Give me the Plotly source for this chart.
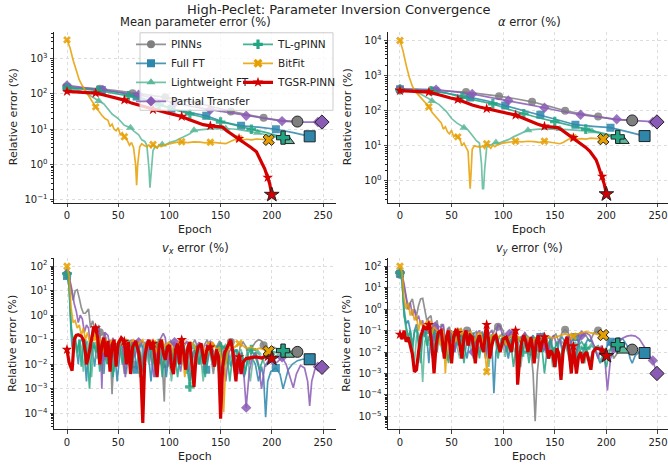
import plotly.graph_objects as go

# ---------------- data: (epoch, relative error %) ----------------
methods = ['PINNs', 'Full FT', 'Lightweight FT', 'Partial Transfer', 'TL-gPINN', 'BitFit', 'TGSR-PINN']

# Mean parameter error (%)
pinn_mean = [(0, 160), (16, 150), (32, 140), (48, 125), (64, 105), (80, 92), (96, 80), (112, 66), (128, 55), (144, 42),
             (160, 32), (176, 26), (192, 21), (208, 18), (224, 16.5), (225, 16.5)]
fullft_mean = [(0, 150), (17, 140), (34, 130), (51, 110), (68, 85), (85, 60), (102, 38), (119, 30), (136, 24), (153, 16),
               (170, 12.5), (187, 11.5), (204, 10), (221, 8), (237, 6.3)]
light_mean = [(0, 140), (10, 130), (20, 100), (31, 63), (36, 52), (44, 27), (50, 20), (56, 13), (62, 11), (65, 9), (70, 7),
              (73, 5), (76, 4.5), (78, 3.5), (80, 0.8), (81, 0.22), (82, 0.5), (84, 2.5), (86, 3.2), (88, 3.0), (90, 3.6),
              (93, 3.7), (96, 3.6), (100, 4.2), (105, 4.6), (110, 5.5), (115, 6.3), (120, 7.5), (124, 9.3), (130, 9.8),
              (140, 10.2), (155, 10.5), (165, 10), (175, 9), (186, 8), (195, 7), (205, 6), (216, 4.7)]
partial_mean = [(0, 175), (17, 150), (35, 130), (52, 110), (70, 95), (87, 72), (105, 55), (122, 44), (140, 36), (157, 30),
                (175, 24), (192, 20), (210, 17), (227, 16), (245, 16), (249, 16)]
tlg_mean = [(0, 150), (15, 140), (30, 125), (45, 105), (60, 88), (75, 68), (90, 49), (105, 36), (120, 27), (135, 21),
            (150, 16), (165, 13), (180, 10), (195, 8), (210, 6), (211, 5.8)]
bitfit_mean = [(0, 3400), (3, 2000), (6, 900), (9, 450), (12, 250), (15, 170), (18, 120), (21, 90), (24, 65), (28, 43),
               (31, 32), (34, 25), (37, 20), (40, 18), (42, 12), (44, 14), (46, 10), (48, 9), (50, 11), (52, 7), (54, 8),
               (56, 6.1), (58, 5.5), (61, 3.5), (63, 4.2), (65, 3), (67, 1), (68, 0.26), (69, 1), (71, 3.2), (73, 3.9),
               (75, 3.5), (78, 3.2), (80, 3.6), (82, 3.0), (84, 3.7), (86, 3.3), (88, 2.9), (90, 3.6), (92, 3.2), (94, 3.5),
               (97, 3.7), (100, 3.9), (104, 4.1), (108, 4.3), (112, 4.4), (118, 4.2), (124, 4.4), (130, 4.3), (135, 4.1),
               (140, 4.3), (145, 4.2), (150, 4.0), (155, 3.9), (158, 4.3), (162, 5.0), (165, 5.3), (168, 5.4), (172, 5.0),
               (176, 5.2), (180, 5.0), (185, 5.3), (190, 5.1), (196, 5.0), (197, 5.0)]
tgsr_mean = [(0, 118), (7, 115), (14, 112), (21, 110), (28, 105), (35, 95), (42, 85), (49, 75), (56, 67), (63, 55), (70, 48),
             (77, 42), (84, 36), (91, 33), (98, 29), (105, 26), (112, 23), (119, 19), (126, 16), (133, 13.5), (140, 12.5),
             (147, 12), (152, 11.5), (156, 9), (160, 7.5), (164, 6.3), (168, 5.4), (172, 4.5), (176, 3.7), (180, 3.0),
             (185, 2.3), (188, 1.6), (191, 1.0), (193, 0.77), (195, 0.55), (196, 0.43), (198, 0.28), (200, 0.14)]

# alpha error (%)
pinn_alpha = [(0, 400), (16, 390), (32, 380), (48, 360), (64, 340), (80, 300), (96, 260), (112, 220), (128, 180), (144, 135),
              (160, 100), (176, 82), (192, 68), (208, 57), (224, 53), (225, 53)]
fullft_alpha = [(0, 410), (17, 400), (34, 360), (51, 300), (68, 240), (85, 190), (102, 140), (119, 100), (136, 77), (153, 55),
                (170, 40), (187, 36), (204, 33), (221, 25), (237, 19)]
light_alpha = [(0, 400), (10, 380), (20, 300), (31, 190), (38, 150), (45, 95), (50, 60), (55, 45), (62, 33), (66, 28),
               (70, 20), (74, 14), (77, 12), (79, 3), (80, 0.6), (81, 0.6), (82, 2), (84, 9), (86, 11), (88, 10.5), (90, 11.5),
               (93, 12.4), (96, 12), (100, 13), (105, 15), (110, 18), (115, 21), (120, 25), (124, 28), (135, 30), (155, 30),
               (170, 28), (186, 26), (200, 20), (210, 16), (216, 14)]
partial_alpha = [(0, 420), (17, 410), (35, 400), (52, 350), (70, 300), (87, 240), (105, 195), (122, 155), (140, 122),
                 (157, 95), (175, 77), (192, 65), (210, 57), (227, 52), (245, 48), (249, 48)]
tlg_alpha = [(0, 400), (15, 390), (30, 370), (45, 320), (60, 240), (75, 195), (90, 157), (105, 110), (120, 82), (135, 62),
             (150, 49), (165, 38), (180, 30), (195, 23), (210, 18), (211, 18)]
bitfit_alpha = [(0, 10000), (3, 5000), (6, 2000), (9, 900), (12, 500), (15, 350), (18, 280), (21, 220), (24, 170), (28, 130),
                (31, 90), (34, 70), (37, 55), (40, 45), (42, 30), (44, 35), (46, 25), (48, 22), (50, 28), (52, 18), (54, 20),
                (56, 18), (58, 16), (60, 10), (62, 12), (64, 9), (66, 7), (67, 2), (68, 0.6), (69, 2), (70, 8), (72, 10),
                (75, 9.5), (78, 9), (80, 10), (82, 8.5), (84, 11.5), (86, 10), (88, 8.5), (90, 10.5), (92, 9.5), (94, 10.5),
                (97, 11.5), (100, 12), (104, 12.5), (108, 13), (112, 13.5), (118, 13), (124, 13.5), (130, 13.2), (135, 12.5),
                (140, 13.5), (145, 13), (150, 12), (155, 11.5), (158, 12.5), (162, 15), (165, 16.5), (168, 17), (172, 15.5),
                (176, 16), (180, 15.5), (185, 16.5), (190, 16), (196, 15.5), (197, 15.5)]
tgsr_alpha = [(0, 375), (7, 370), (14, 360), (21, 350), (28, 340), (35, 300), (42, 260), (49, 230), (56, 208), (63, 170),
              (70, 145), (77, 128), (84, 115), (91, 100), (98, 90), (105, 82), (112, 75), (119, 62), (126, 50), (133, 42),
              (140, 36), (147, 35), (153, 33), (157, 28), (161, 23), (165, 19), (168, 17), (172, 14), (176, 11.5), (180, 9),
              (184, 7), (187, 5.5), (190, 4), (192, 2.8), (194, 1.9), (196, 1.35), (198, 0.8), (200, 0.42)]

# v_x error (%)
pinn_vx = [(0, 45), (2, 35), (4, 12), (6, 4), (8, 10), (10, 11), (12, 5), (14, 2), (16, 1.2), (18, 1.2), (21, 1.8), (23, 0.3),
           (25, 0.6), (27, 0.3), (29, 0.15), (31, 0.4), (32, 0.2), (34, 0.05), (36, 0.2), (38, 0.12), (40, 0.01), (42, 0.1),
           (44, 6e-4), (46, 0.04), (48, 0.07), (50, 0.05), (52, 0.1), (54, 0.02), (56, 0.004), (58, 0.05), (60, 0.08),
           (62, 0.03), (64, 0.01), (66, 0.06), (68, 0.09), (70, 0.02), (72, 0.003), (74, 0.05), (76, 0.08), (78, 0.06),
           (80, 0.01), (82, 0.05), (84, 0.08), (86, 0.03), (88, 0.008), (90, 0.04), (92, 0.07), (95, 3e-4), (96, 0.01),
           (98, 0.05), (101, 0.09), (104, 0.06), (107, 0.01), (110, 0.05), (113, 0.08), (116, 0.03), (119, 0.005),
           (122, 0.06), (125, 0.1), (128, 0.04), (131, 0.01), (134, 0.06), (137, 0.1), (140, 0.03), (143, 0.004),
           (146, 0.05), (149, 0.09), (152, 0.05), (155, 0.01), (158, 0.06), (160, 0.08), (163, 0.04), (166, 0.008),
           (169, 0.05), (172, 0.08), (175, 0.05), (178, 0.01), (181, 0.05), (184, 0.08), (187, 0.1), (190, 0.09),
           (192, 0.06), (195, 0.02), (198, 0.04), (202, 0.05), (206, 0.04), (210, 0.03), (215, 0.035), (220, 0.033),
           (224, 0.032), (225, 0.032)]
fullft_vx = [(0, 40), (2, 15), (4, 0.2), (5, 0.05), (7, 0.1), (9, 0.06), (11, 0.01), (13, 0.08), (15, 0.12), (17, 0.03),
             (19, 0.002), (21, 0.05), (23, 0.1), (25, 0.03), (27, 0.008), (29, 0.06), (31, 0.09), (34, 0.03), (36, 0.004),
             (38, 0.05), (40, 0.08), (43, 0.01), (46, 0.06), (49, 0.002), (52, 0.04), (55, 0.07), (58, 0.01), (61, 0.05),
             (64, 0.08), (66, 0.03), (68, 0.006), (70, 0.04), (73, 0.07), (76, 0.01), (79, 0.05), (82, 0.002), (85, 0.05),
             (88, 0.07), (91, 0.01), (94, 0.04), (97, 0.003), (100, 0.05), (102, 0.03), (105, 0.008), (108, 0.04),
             (111, 0.06), (114, 0.01), (117, 0.04), (120, 0.002), (123, 0.03), (126, 0.05), (129, 0.01), (132, 0.04),
             (136, 0.006), (139, 0.03), (142, 0.05), (145, 0.01), (148, 0.03), (151, 0.002), (154, 0.03), (157, 0.04),
             (160, 0.008), (163, 0.03), (166, 0.04), (170, 0.01), (173, 0.003), (176, 0.012), (180, 0.02), (184, 0.01),
             (187, 0.002), (190, 0.008), (192, 0.003), (194, 7e-5), (196, 0.002), (199, 0.005), (204, 0.007), (208, 0.004),
             (211, 0.001), (213, 0.002), (216, 0.006), (220, 0.01), (225, 0.014), (230, 0.016), (234, 0.016), (237, 0.016)]
light_vx = [(0, 45), (2, 20), (4, 0.5), (6, 0.04), (8, 0.08), (10, 0.02), (12, 0.1), (14, 0.05), (16, 0.005), (18, 0.06),
            (20, 0.09), (22, 0.02), (24, 0.003), (26, 0.05), (28, 0.08), (31, 0.02), (33, 0.06), (35, 0.004), (37, 0.05),
            (40, 0.08), (43, 0.02), (46, 0.005), (49, 0.06), (52, 0.09), (55, 0.02), (58, 0.004), (61, 0.05), (62, 0.06),
            (65, 0.02), (68, 0.07), (71, 0.003), (74, 0.04), (77, 0.08), (80, 0.01), (83, 0.05), (86, 0.003), (89, 0.05),
            (93, 0.06), (96, 0.01), (99, 0.05), (102, 0.002), (105, 0.04), (108, 0.06), (111, 0.01), (114, 0.04),
            (117, 0.004), (120, 0.04), (124, 0.05), (127, 0.01), (130, 0.04), (133, 0.002), (136, 0.03), (139, 0.05),
            (142, 0.01), (145, 0.035), (148, 0.005), (151, 0.04), (155, 0.05), (158, 0.01), (161, 0.03), (164, 0.004),
            (167, 0.03), (170, 0.04), (173, 0.01), (176, 0.03), (179, 0.002), (182, 0.02), (186, 0.03), (190, 0.02),
            (194, 0.008), (198, 0.015), (202, 0.02), (206, 0.025), (210, 0.026), (213, 0.025), (216, 0.025)]
partial_vx = [(0, 50), (3, 25), (5, 10), (7, 3), (9, 1.5), (11, 0.5), (13, 1), (15, 0.7), (17, 0.2), (19, 0.4), (21, 0.3),
              (23, 0.05), (25, 0.3), (27, 0.2), (29, 0.25), (31, 0.3), (33, 0.03), (34, 0.001), (35, 0.02), (37, 0.2),
              (40, 0.15), (42, 0.05), (45, 0.12), (48, 0.01), (51, 0.1), (54, 0.06), (57, 0.003), (60, 0.07), (63, 0.1),
              (66, 0.02), (70, 0.08), (73, 0.005), (76, 0.06), (79, 0.1), (82, 0.02), (85, 0.003), (88, 0.06), (91, 0.1),
              (94, 0.18), (96, 0.12), (99, 0.01), (102, 0.06), (105, 0.08), (108, 0.02), (111, 0.005), (114, 0.05),
              (117, 0.09), (120, 0.03), (123, 0.003), (126, 0.05), (129, 0.08), (132, 0.02), (135, 0.006), (138, 0.05),
              (140, 0.06), (143, 0.01), (146, 0.04), (149, 0.07), (152, 0.02), (155, 0.002), (158, 0.03), (161, 0.05),
              (164, 0.02), (167, 0.004), (170, 0.03), (172, 0.01), (175, 1.7e-4), (178, 0.005), (181, 0.02), (184, 0.03),
              (187, 0.01), (190, 0.001), (193, 0.008), (197, 0.015), (201, 0.01), (205, 0.012), (210, 0.019), (214, 0.01),
              (218, 0.003), (221, 0.0011), (224, 0.004), (228, 0.009), (232, 0.007), (235, 0.002), (237, 2e-4),
              (239, 0.002), (242, 0.006), (245, 0.008), (249, 0.0075)]
tlg_vx = [(0, 50), (2, 20), (4, 0.3), (6, 0.1), (8, 0.15), (10, 0.03), (12, 0.1), (14, 0.008), (16, 0.07), (18, 0.1),
          (20, 0.02), (22, 0.001), (24, 0.04), (26, 0.08), (28, 0.03), (30, 0.05), (32, 0.005), (34, 0.06), (36, 0.09),
          (39, 0.01), (42, 0.05), (45, 0.003), (48, 0.06), (51, 0.08), (54, 0.01), (57, 0.05), (60, 0.06), (63, 0.004),
          (66, 0.05), (69, 0.08), (72, 0.02), (75, 0.004), (78, 0.05), (81, 0.07), (84, 0.01), (87, 0.05), (90, 0.07),
          (93, 0.003), (96, 0.05), (99, 0.07), (102, 0.01), (105, 0.04), (108, 0.003), (111, 0.04), (114, 0.06),
          (117, 0.01), (120, 0.0012), (123, 0.02), (126, 0.05), (129, 0.01), (132, 0.04), (135, 0.003), (138, 0.04),
          (141, 0.06), (144, 0.01), (147, 0.04), (150, 0.05), (153, 0.008), (156, 0.035), (159, 0.002), (162, 0.03),
          (165, 0.04), (168, 0.01), (171, 0.03), (174, 0.004), (177, 0.03), (180, 0.04), (184, 0.02), (188, 0.006),
          (192, 0.02), (196, 0.03), (200, 0.035), (204, 0.03), (208, 0.035), (210, 0.036), (211, 0.036)]
bitfit_vx = [(0, 100), (2, 40), (4, 2), (6, 0.5), (8, 0.6), (10, 0.3), (12, 0.4), (14, 0.15), (16, 0.3), (18, 0.1), (20, 0.2),
             (22, 0.08), (24, 0.15), (26, 0.2), (28, 0.12), (30, 0.05), (32, 0.12), (35, 0.03), (38, 0.1), (41, 0.06),
             (44, 0.1), (47, 0.02), (50, 0.09), (53, 0.11), (56, 0.08), (59, 0.03), (62, 0.08), (65, 0.1), (68, 0.05),
             (71, 0.08), (74, 0.1), (77, 0.04), (80, 0.09), (84, 0.07), (87, 0.03), (90, 0.08), (93, 0.1), (96, 0.05),
             (99, 0.08), (102, 0.06), (105, 0.02), (108, 0.07), (112, 0.08), (115, 0.003), (118, 0.05), (121, 0.08),
             (124, 0.06), (127, 0.03), (130, 0.07), (133, 0.05), (136, 0.02), (140, 0.06), (143, 0.07), (146, 0.04),
             (149, 0.05), (151, 0.01), (153, 1.1e-4), (155, 0.01), (158, 0.05), (161, 0.06), (164, 0.05), (168, 0.07),
             (171, 0.06), (175, 0.045), (180, 0.05), (184, 0.04), (188, 0.045), (192, 0.038), (196, 0.034), (197, 0.034)]
tgsr_vx = [(0, 0.04), (2, 0.012), (5, 0.0055), (7, 0.1), (9, 0.15), (11, 0.16), (14, 0.14), (16, 0.1), (18, 0.03), (19, 0.01),
           (21, 0.02), (23, 0.06), (26, 0.3), (28, 0.3), (30, 0.12), (32, 0.01), (34, 0.06), (36, 0.12), (38, 0.02),
           (40, 0.09), (42, 0.005), (44, 0.06), (46, 0.1), (48, 0.008), (50, 0.07), (53, 0.12), (56, 0.085), (58, 0.01),
           (60, 0.08), (62, 0.004), (64, 0.05), (67, 0.09), (70, 0.03), (72, 0.006), (74, 4e-5), (76, 0.02), (78, 0.06),
           (80, 0.1), (82, 0.04), (84, 0.07), (86, 0.01), (88, 0.003), (90, 0.06), (92, 0.1), (94, 0.03), (96, 0.015),
           (98, 0.05), (100, 0.06), (102, 0.008), (104, 0.004), (106, 0.04), (108, 0.07), (110, 0.01), (112, 0.1),
           (114, 0.03), (116, 0.006), (118, 0.05), (120, 0.08), (122, 0.01), (124, 0.0012), (126, 0.02), (128, 0.05),
           (131, 0.07), (134, 0.01), (137, 0.05), (140, 0.05), (142, 0.02), (144, 0.008), (146, 0.04), (148, 0.02),
           (150, 6e-5), (152, 0.008), (154, 0.03), (157, 0.06), (160, 0.1), (162, 0.03), (164, 0.005), (165, 0.002),
           (166, 0.01), (168, 0.02), (170, 0.004), (172, 0.012), (175, 0.017), (180, 0.018), (185, 0.02), (190, 0.018),
           (193, 0.02), (196, 0.02), (200, 0.017)]

# v_y error (%)
pinn_vy = [(0, 40), (2, 35), (4, 10), (6, 3), (8, 1), (10, 2), (12, 3), (14, 1), (16, 0.5), (18, 1.5), (20, 3), (22, 3.2),
           (24, 1), (26, 0.3), (28, 0.4), (30, 0.5), (32, 0.1), (34, 0.2), (36, 0.3), (38, 0.05), (40, 0.2), (42, 0.15),
           (44, 0.02), (46, 0.12), (48, 0.15), (50, 0.03), (53, 0.1), (56, 0.12), (59, 0.01), (62, 0.08), (65, 0.1),
           (68, 0.02), (71, 0.07), (74, 0.09), (77, 0.01), (80, 0.06), (83, 0.08), (86, 0.02), (89, 0.05), (92, 0.12),
           (95, 0.15), (97, 0.17), (100, 0.1), (103, 0.02), (106, 0.06), (109, 0.1), (112, 0.05), (115, 0.01), (118, 0.04),
           (121, 0.08), (124, 0.05), (127, 0.01), (129, 0.001), (131, 6e-6), (133, 0.001), (136, 0.03), (139, 0.08),
           (142, 0.05), (145, 0.01), (148, 0.05), (151, 0.07), (154, 0.03), (157, 0.08), (160, 0.11), (163, 0.08),
           (166, 0.02), (169, 0.005), (172, 0.02), (176, 0.06), (180, 0.06), (184, 0.03), (188, 0.08), (192, 0.1),
           (195, 0.09), (198, 0.08), (201, 0.05), (204, 0.02), (207, 0.005), (210, 0.008), (214, 0.015), (218, 0.014),
           (222, 0.013), (224, 0.013), (225, 0.013)]
fullft_vy = [(0, 45), (2, 20), (4, 1), (6, 0.2), (8, 0.3), (10, 0.1), (12, 0.02), (14, 0.1), (16, 0.2), (18, 0.05), (20, 0.01),
             (22, 0.08), (24, 0.15), (26, 0.05), (28, 0.003), (30, 0.06), (32, 0.1), (34, 0.05), (36, 0.01), (38, 0.07),
             (41, 0.1), (44, 0.02), (47, 0.07), (50, 0.1), (53, 0.01), (56, 0.06), (59, 0.08), (62, 0.02), (65, 0.005),
             (68, 0.05), (71, 0.08), (74, 0.02), (77, 0.06), (80, 0.09), (83, 0.01), (86, 0.05), (89, 0.03), (91, 1.2e-4),
             (93, 0.01), (96, 0.05), (99, 0.07), (102, 0.03), (105, 0.005), (108, 0.04), (111, 0.07), (114, 0.02),
             (117, 0.05), (120, 0.06), (123, 0.01), (126, 0.04), (129, 0.06), (132, 0.02), (136, 0.05), (139, 0.01),
             (142, 0.04), (145, 0.05), (148, 0.01), (151, 0.002), (154, 0.03), (157, 0.05), (160, 0.03), (163, 0.008),
             (166, 0.03), (170, 0.05), (173, 0.03), (176, 0.005), (179, 0.02), (182, 0.04), (186, 0.03), (190, 0.01),
             (194, 0.003), (198, 0.01), (201, 0.02), (204, 0.03), (208, 0.04), (212, 0.045), (216, 0.04), (220, 0.02),
             (223, 0.005), (225, 0.003), (228, 0.007), (232, 0.01), (235, 0.009), (237, 0.009)]
light_vy = [(0, 45), (2, 25), (4, 0.6), (6, 0.1), (8, 0.04), (10, 0.1), (12, 0.02), (14, 0.003), (16, 0.05), (18, 0.08),
            (20, 0.02), (22, 4e-4), (24, 0.03), (26, 0.06), (28, 0.02), (31, 0.04), (34, 0.006), (37, 0.05), (40, 0.08),
            (43, 0.02), (46, 0.004), (49, 0.05), (52, 0.08), (55, 0.02), (58, 0.005), (62, 0.05), (65, 0.08), (68, 0.02),
            (71, 0.005), (74, 0.04), (77, 0.06), (80, 0.01), (83, 0.04), (86, 0.002), (89, 0.03), (93, 0.05), (96, 0.01),
            (99, 0.04), (102, 0.006), (105, 0.04), (108, 0.05), (111, 0.01), (114, 0.03), (117, 0.002), (120, 0.03),
            (124, 0.04), (127, 0.01), (130, 0.03), (133, 0.005), (136, 0.03), (139, 0.04), (142, 0.01), (145, 0.03),
            (148, 0.002), (151, 0.02), (155, 0.03), (158, 0.008), (161, 0.025), (164, 0.004), (167, 0.02), (170, 0.03),
            (173, 0.01), (176, 0.02), (179, 0.003), (182, 0.015), (186, 0.02), (190, 0.012), (194, 0.004), (198, 0.008),
            (202, 0.012), (206, 0.014), (210, 0.013), (213, 0.012), (216, 0.012)]
partial_vy = [(0, 50), (2, 40), (4, 15), (6, 3), (8, 1), (10, 2), (12, 0.5), (14, 1), (16, 0.3), (18, 0.5), (20, 0.2),
              (22, 0.3), (24, 0.05), (26, 0.2), (28, 0.25), (30, 0.1), (32, 0.02), (34, 0.15), (36, 0.2), (38, 0.05),
              (40, 0.15), (42, 0.2), (44, 0.03), (47, 0.12), (50, 0.08), (53, 0.01), (56, 0.1), (59, 0.12), (62, 0.02),
              (65, 0.08), (68, 0.1), (71, 0.01), (74, 0.07), (77, 0.1), (80, 0.03), (83, 0.005), (86, 0.07), (89, 0.1),
              (92, 0.04), (95, 0.2), (97, 0.15), (100, 0.05), (103, 0.01), (106, 0.07), (109, 0.1), (112, 0.03),
              (115, 0.005), (118, 0.05), (121, 0.08), (124, 0.02), (127, 0.05), (130, 0.01), (133, 0.05), (136, 0.07),
              (140, 0.02), (143, 0.005), (146, 0.04), (149, 0.06), (152, 0.02), (155, 0.04), (158, 0.01), (161, 0.05),
              (164, 0.06), (167, 0.02), (170, 0.004), (173, 0.03), (176, 0.06), (180, 0.08), (184, 0.06), (188, 0.02),
              (192, 0.005), (195, 0.02), (198, 0.01), (201, 1.6e-4), (204, 0.005), (208, 0.015), (212, 0.03), (216, 0.045),
              (220, 0.055), (224, 0.06), (228, 0.055), (232, 0.04), (236, 0.02), (240, 0.01), (243, 0.005), (245, 0.004),
              (249, 0.001)]
tlg_vy = [(0, 50), (2, 25), (4, 0.5), (6, 0.15), (8, 0.05), (10, 0.1), (12, 0.01), (14, 0.08), (16, 0.12), (18, 0.02),
          (20, 0.003), (22, 0.05), (24, 0.09), (26, 0.02), (28, 0.05), (30, 0.08), (32, 0.01), (35, 0.06), (38, 0.08),
          (41, 0.01), (44, 0.05), (47, 0.003), (50, 0.05), (53, 0.08), (56, 0.02), (59, 0.05), (62, 0.003), (65, 0.05),
          (68, 0.07), (71, 0.02), (74, 0.05), (77, 0.005), (80, 0.05), (83, 0.07), (86, 0.01), (89, 0.04), (92, 0.06),
          (95, 0.005), (98, 0.04), (101, 0.06), (104, 0.01), (107, 0.04), (110, 0.002), (113, 0.03), (116, 0.05),
          (119, 0.01), (122, 0.04), (125, 0.003), (128, 0.03), (131, 0.05), (134, 0.01), (137, 0.03), (140, 0.001),
          (143, 0.02), (146, 0.04), (149, 0.01), (152, 0.03), (155, 0.004), (158, 0.02), (161, 0.03), (164, 0.008),
          (167, 0.02), (170, 0.003), (173, 0.02), (176, 0.03), (180, 0.015), (184, 0.004), (188, 0.015), (192, 0.02),
          (196, 0.01), (200, 0.002), (203, 0.01), (206, 0.02), (209, 0.022), (211, 0.022)]
bitfit_vy = [(0, 100), (2, 50), (4, 3), (6, 1), (8, 2), (10, 0.5), (12, 1), (14, 0.3), (16, 0.5), (18, 0.1), (20, 0.3),
             (22, 0.15), (24, 0.2), (26, 0.25), (28, 0.2), (30, 0.05), (33, 0.15), (36, 0.1), (39, 0.02), (42, 0.1),
             (44, 0.001), (46, 0.05), (48, 0.1), (51, 0.08), (54, 0.03), (57, 0.09), (60, 0.1), (63, 0.04), (66, 0.08),
             (69, 0.09), (72, 0.03), (75, 0.07), (78, 0.08), (81, 0.02), (83, 0.005), (84, 0.0012), (86, 0.01), (88, 0.05),
             (91, 0.07), (94, 0.04), (97, 0.06), (100, 0.05), (103, 0.02), (106, 0.05), (109, 0.06), (112, 0.04),
             (115, 0.05), (118, 0.03), (121, 0.05), (124, 0.045), (127, 0.02), (130, 0.04), (133, 0.05), (136, 0.035),
             (140, 0.04), (144, 0.05), (148, 0.045), (152, 0.05), (156, 0.06), (160, 0.07), (164, 0.06), (168, 0.054),
             (172, 0.07), (176, 0.08), (180, 0.09), (184, 0.08), (188, 0.07), (192, 0.065), (196, 0.062), (197, 0.062)]
tgsr_vy = [(0, 0.066), (2, 0.04), (4, 0.1), (6, 0.03), (8, 0.05), (10, 0.02), (12, 0.008), (14, 0.0012), (16, 0.0015),
           (18, 0.01), (20, 0.05), (23, 0.15), (26, 0.12), (28, 0.19), (30, 0.05), (32, 0.005), (33, 0.001), (35, 0.02),
           (37, 0.08), (40, 0.1), (42, 0.02), (43, 0.005), (45, 0.05), (47, 0.1), (50, 0.003), (52, 0.05), (54, 0.1),
           (56, 0.08), (58, 0.02), (60, 0.005), (62, 0.05), (64, 0.1), (66, 0.02), (68, 0.06), (70, 0.05), (72, 0.01),
           (73, 0.003), (75, 0.03), (77, 0.06), (79, 0.02), (81, 0.01), (83, 0.1), (84, 0.19), (86, 0.03), (87, 0.005),
           (89, 0.02), (91, 0.05), (93, 0.06), (95, 0.02), (97, 0.01), (100, 0.04), (103, 0.05), (106, 0.02), (108, 0.01),
           (110, 0.05), (112, 0.1), (113, 0.02), (114, 3e-4), (116, 0.005), (118, 0.03), (120, 0.06), (122, 0.03),
           (124, 0.01), (127, 0.05), (129, 0.01), (130, 0.003), (132, 0.03), (134, 0.06), (136, 0.01), (138, 0.03),
           (140, 0.05), (142, 0.02), (144, 0.005), (146, 0.012), (148, 0.008), (150, 0.002), (152, 0.015), (154, 0.008),
           (156, 5e-4), (158, 0.01), (160, 0.03), (162, 0.05), (164, 0.01), (166, 0.001), (168, 0.019), (170, 0.004),
           (171, 0.001), (173, 0.006), (175, 0.01), (177, 0.003), (179, 0.008), (181, 0.01), (183, 0.004), (185, 0.0015),
           (187, 0.01), (190, 0.015), (193, 0.014), (196, 0.012), (198, 0.009), (200, 0.0066)]

mean_err = [pinn_mean, fullft_mean, light_mean, partial_mean, tlg_mean, bitfit_mean, tgsr_mean]
alpha_err = [pinn_alpha, fullft_alpha, light_alpha, partial_alpha, tlg_alpha, bitfit_alpha, tgsr_alpha]
vx_err = [pinn_vx, fullft_vx, light_vx, partial_vx, tlg_vx, bitfit_vx, tgsr_vx]
vy_err = [pinn_vy, fullft_vy, light_vy, partial_vy, tlg_vy, bitfit_vy, tgsr_vy]

# ---------------- style ----------------
colors = ['#7f7f7f', '#2e86ab', '#5cb89a', '#8a5bb5', '#22a582', '#e69f00', '#d40000']
symbols = ['circle', 'square', 'triangle-up', 'diamond', 'cross', 'x', 'star']
W, H = 668, 468
FONT = 'DejaVu Sans'


def rgba(hx, a):
    return 'rgba(%d,%d,%d,%s)' % (int(hx[1:3], 16), int(hx[3:5], 16), int(hx[5:7], 16), a)


def px(x):
    return x / W


def py(y):
    return 1 - y / H


# panel boxes in pixels: (left, right, top, bottom)
boxes = [(54, 336, 32, 204), (388, 668, 32, 204), (54, 336, 260, 432), (388, 668, 260, 432)]
xranges = [[-12.7, 262.7], [-11.6, 259.7], [-12.7, 262.7], [-11.6, 259.7]]
yranges = [[-1.08, 3.76], [-0.62, 4.25], [-4.65, 2.32], [-5.6, 2.37]]
titles = ['Mean parameter error (%)', '<i>α</i> error (%)',
          '<i>v</i><sub><i>x</i></sub> error (%)', '<i>v</i><sub><i>y</i></sub> error (%)']
panels = [mean_err, alpha_err, vx_err, vy_err]

fig = go.Figure()


def marker_points(pts):
    step = (pts[-1][0] + 1) // 7
    eps = [p[0] for p in pts]
    sel = []
    for k in range(0, pts[-1][0] + 1, step):
        i = min(range(len(eps)), key=lambda j: abs(eps[j] - k))
        sel.append(pts[i])
    return sel


for p, series in enumerate(panels):
    xa = 'x' if p == 0 else 'x%d' % (p + 1)
    ya = 'y' if p == 0 else 'y%d' % (p + 1)
    for m, pts in enumerate(series):
        red = m == 6
        lw = 3.2 if red else 1.7
        col = colors[m] if red else rgba(colors[m], 0.85)
        fig.add_trace(go.Scatter(x=[q[0] for q in pts], y=[q[1] for q in pts], mode='lines',
                                 line=dict(color=col, width=lw), xaxis=xa, yaxis=ya,
                                 showlegend=False, hoverinfo='skip'))
        mk = marker_points(pts)
        fig.add_trace(go.Scatter(x=[q[0] for q in mk], y=[q[1] for q in mk], mode='markers',
                                 marker=dict(symbol=symbols[m], size=8 if m != 5 else 7, color=col,
                                             line=dict(width=0)),
                                 xaxis=xa, yaxis=ya, showlegend=False, hoverinfo='skip'))
    for m, pts in enumerate(series):
        fig.add_trace(go.Scatter(x=[pts[-1][0]], y=[pts[-1][1]], mode='markers',
                                 marker=dict(symbol=symbols[m], size=11 if m != 5 else 10, color=colors[m],
                                             line=dict(width=1, color='#222')),
                                 xaxis=xa, yaxis=ya, showlegend=False, hoverinfo='skip'))

# legend entries
for m, name in enumerate(methods):
    red = m == 6
    fig.add_trace(go.Scatter(x=[None], y=[None], mode='lines+markers', name=name,
                             line=dict(color=colors[m] if red else rgba(colors[m], 0.85), width=3.2 if red else 1.7),
                             marker=dict(symbol=symbols[m], size=8, color=colors[m]),
                             legend='legend' if m < 4 else 'legend2'))

layout = dict(width=W, height=H, autosize=False, margin=dict(l=0, r=0, t=0, b=0),
              paper_bgcolor='white', plot_bgcolor='white',
              font=dict(family=FONT, size=10, color='#222'))

ticks_major = list(range(-6, 6))
for p in range(4):
    l, r, t, b = boxes[p]
    sfx = '' if p == 0 else str(p + 1)
    layout['xaxis' + sfx] = dict(domain=[px(l), px(r)], range=xranges[p], anchor='y' + sfx,
                                 tickvals=[0, 50, 100, 150, 200, 250], ticks='outside', ticklen=3.5,
                                 showline=True, linecolor='#222', linewidth=1, mirror=False,
                                 showgrid=True, gridcolor='#dddddd', griddash='dot', gridwidth=0.8,
                                 zeroline=False, tickfont=dict(size=10))
    lo, hi = yranges[p]
    tv = [10.0 ** k for k in ticks_major if lo <= k <= hi]
    tt = ['10<sup>%s</sup>' % (str(k) if k >= 0 else '−' + str(-k)) for k in ticks_major if lo <= k <= hi]
    layout['yaxis' + sfx] = dict(domain=[py(b), py(t)], type='log', range=yranges[p], anchor='x' + sfx,
                                 tickvals=tv, ticktext=tt, ticks='outside', ticklen=3.5,
                                 showline=True, linecolor='#222', linewidth=1, mirror=False,
                                 showgrid=True, gridcolor='#dddddd', griddash='dot', gridwidth=0.8,
                                 zeroline=False, tickfont=dict(size=10),
                                 minor=dict(ticks='outside', ticklen=2, dtick='D1', tickcolor='#222',
                                            showgrid=False))

layout['legend'] = dict(x=px(131), y=py(30), xanchor='left', yanchor='top', bgcolor='rgba(0,0,0,0)',
                        font=dict(size=10.5), tracegroupgap=0)
layout['legend2'] = dict(x=px(238), y=py(30), xanchor='left', yanchor='top', bgcolor='rgba(0,0,0,0)',
                         font=dict(size=10.5), tracegroupgap=0)
layout['shapes'] = [dict(type='rect', xref='paper', yref='paper', x0=px(140), x1=px(333), y0=py(111), y1=py(33),
                         line=dict(color='#cccccc', width=1), fillcolor='rgba(255,255,255,0.8)', layer='above')]

ann = [dict(text='High-Peclet: Parameter Inversion Convergence', x=px(339), y=py(10), font=dict(size=13))]
for p in range(4):
    l, r, t, b = boxes[p]
    cx = (l + r) / 2 + (1 if p % 2 else 0)
    ann.append(dict(text=titles[p], x=px(cx), y=py(t - 10), font=dict(size=11.5)))
    ann.append(dict(text='Epoch', x=px(cx), y=py(b + 27), font=dict(size=11)))
    ann.append(dict(text='Relative error (%)', x=px(l - 41), y=py((t + b) / 2), textangle=-90, font=dict(size=11)))
for a in ann:
    a.update(xref='paper', yref='paper', showarrow=False, xanchor='center', yanchor='middle')
layout['annotations'] = ann

fig.update_layout(**layout)
fig.write_html('out.html', config={'displayModeBar': False},
               post_script="document.body.style.margin='0';")
